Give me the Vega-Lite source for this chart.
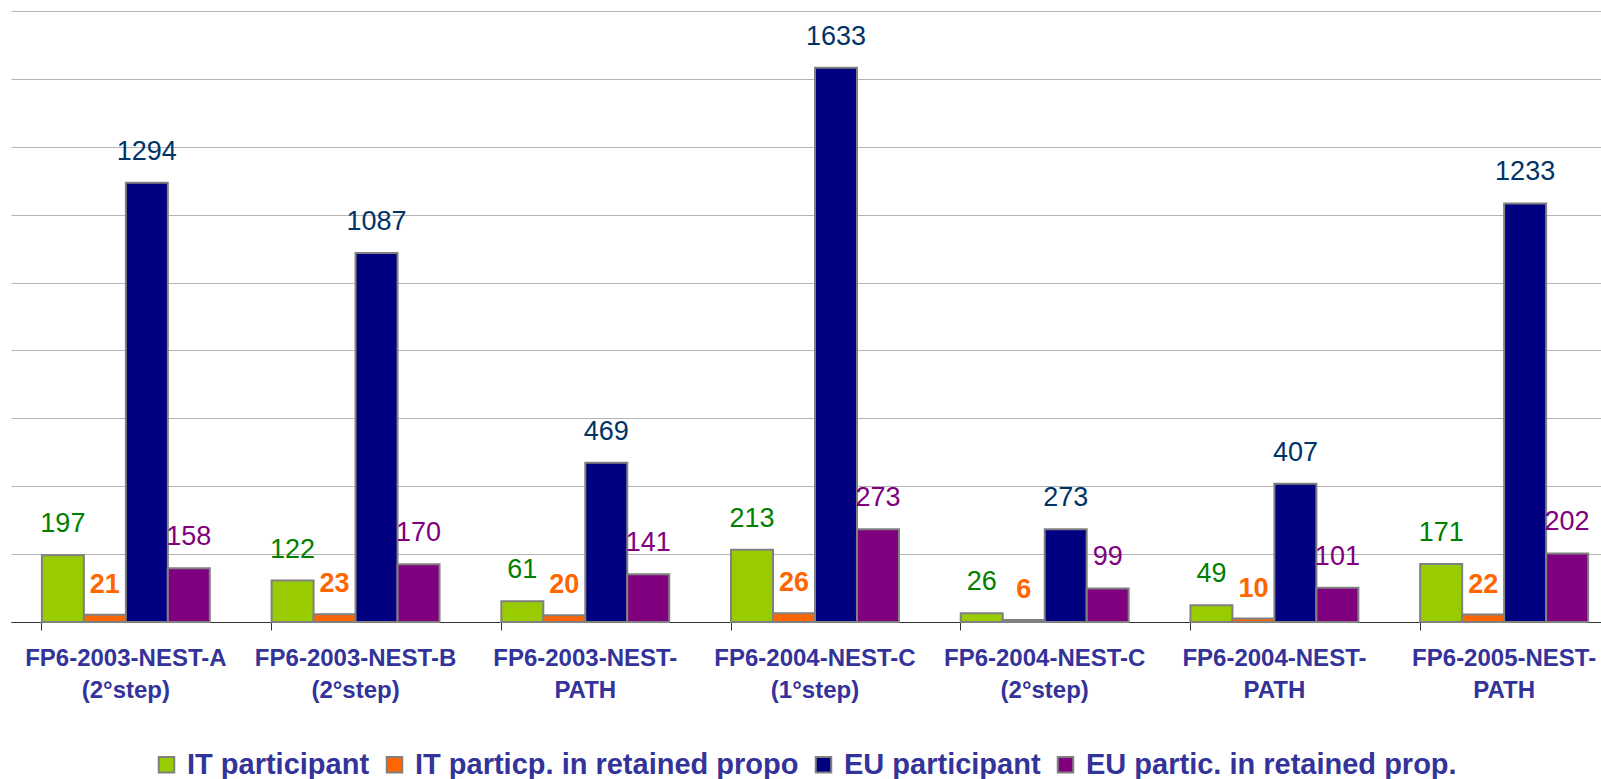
{
  "$schema": "https://vega.github.io/schema/vega-lite/v6.json",
  "autosize": {"type": "none"},
  "width": 1590,
  "height": 611,
  "padding": {"left": 11, "top": 11, "right": 0, "bottom": 157},
  "background": "white",
  "config": {"view": {"stroke": null}},
  "data": {"values": [
    {"cat": "FP6-2003-NEST-A|(2°step)", "series": "IT participant", "value": 197},
    {"cat": "FP6-2003-NEST-A|(2°step)", "series": "IT particp. in retained propo", "value": 21},
    {"cat": "FP6-2003-NEST-A|(2°step)", "series": "EU participant", "value": 1294},
    {"cat": "FP6-2003-NEST-A|(2°step)", "series": "EU partic. in retained prop.", "value": 158},
    {"cat": "FP6-2003-NEST-B|(2°step)", "series": "IT participant", "value": 122},
    {"cat": "FP6-2003-NEST-B|(2°step)", "series": "IT particp. in retained propo", "value": 23},
    {"cat": "FP6-2003-NEST-B|(2°step)", "series": "EU participant", "value": 1087},
    {"cat": "FP6-2003-NEST-B|(2°step)", "series": "EU partic. in retained prop.", "value": 170},
    {"cat": "FP6-2003-NEST-|PATH", "series": "IT participant", "value": 61},
    {"cat": "FP6-2003-NEST-|PATH", "series": "IT particp. in retained propo", "value": 20},
    {"cat": "FP6-2003-NEST-|PATH", "series": "EU participant", "value": 469},
    {"cat": "FP6-2003-NEST-|PATH", "series": "EU partic. in retained prop.", "value": 141},
    {"cat": "FP6-2004-NEST-C|(1°step)", "series": "IT participant", "value": 213},
    {"cat": "FP6-2004-NEST-C|(1°step)", "series": "IT particp. in retained propo", "value": 26},
    {"cat": "FP6-2004-NEST-C|(1°step)", "series": "EU participant", "value": 1633},
    {"cat": "FP6-2004-NEST-C|(1°step)", "series": "EU partic. in retained prop.", "value": 273},
    {"cat": "FP6-2004-NEST-C|(2°step)", "series": "IT participant", "value": 26},
    {"cat": "FP6-2004-NEST-C|(2°step)", "series": "IT particp. in retained propo", "value": 6},
    {"cat": "FP6-2004-NEST-C|(2°step)", "series": "EU participant", "value": 273},
    {"cat": "FP6-2004-NEST-C|(2°step)", "series": "EU partic. in retained prop.", "value": 99},
    {"cat": "FP6-2004-NEST-|PATH", "series": "IT participant", "value": 49},
    {"cat": "FP6-2004-NEST-|PATH", "series": "IT particp. in retained propo", "value": 10},
    {"cat": "FP6-2004-NEST-|PATH", "series": "EU participant", "value": 407},
    {"cat": "FP6-2004-NEST-|PATH", "series": "EU partic. in retained prop.", "value": 101},
    {"cat": "FP6-2005-NEST-|PATH", "series": "IT participant", "value": 171},
    {"cat": "FP6-2005-NEST-|PATH", "series": "IT particp. in retained propo", "value": 22},
    {"cat": "FP6-2005-NEST-|PATH", "series": "EU participant", "value": 1233},
    {"cat": "FP6-2005-NEST-|PATH", "series": "EU partic. in retained prop.", "value": 202}
  ]},
  "encoding": {
    "x": {
      "field": "cat", "type": "nominal", "sort": null,
      "scale": {"rangeMax": 1608, "paddingInner": 0.269, "paddingOuter": 0.1345},
      "axis": null
    },
    "xOffset": {
      "field": "series", "type": "nominal",
      "sort": ["IT participant", "IT particp. in retained propo", "EU participant", "EU partic. in retained prop."],
      "scale": {"paddingInner": 0, "paddingOuter": 0}
    },
    "y": {
      "field": "value", "type": "quantitative",
      "scale": {"domain": [0, 1800], "nice": false},
      "axis": {"values": [0, 200, 400, 600, 800, 1000, 1200, 1400, 1600, 1800], "labels": false, "ticks": false, "domain": false, "grid": true, "gridColor": "#b4b4b4", "gridWidth": 1, "title": null}
    }
  },
  "layer": [
    {
      "mark": {"type": "bar", "stroke": "#808080", "strokeWidth": 2},
      "encoding": {
        "x": {
          "field": "cat", "type": "nominal", "sort": null,
          "axis": {"title": null, "orient": "bottom", "bandPosition": 0, "labels": false, "ticks": true, "tickSize": 8, "tickColor": "#333333", "domain": true, "domainColor": "#333333", "domainWidth": 1, "grid": false}
        },
        "color": {
          "field": "series", "type": "nominal",
          "sort": ["IT participant", "IT particp. in retained propo", "EU participant", "EU partic. in retained prop."],
          "scale": {"domain": ["IT participant", "IT particp. in retained propo", "EU participant", "EU partic. in retained prop."], "range": ["#99cc00", "#ff6600", "#000080", "#800080"]},
          "legend": {
            "title": null, "orient": "none", "legendX": 141, "legendY": 739, "direction": "horizontal",
            "symbolType": "square", "symbolSize": 240, "symbolStrokeColor": "#808080", "symbolStrokeWidth": 2,
            "labelFont": "Liberation Sans", "labelFontWeight": "bold", "labelFontSize": 29, "labelColor": "#333399",
            "labelOffset": 6, "columnPadding": 10, "labelLimit": 700
          }
        }
      }
    },
    {
      "transform": [{"filter": "datum.series !== 'IT particp. in retained propo'"}],
      "mark": {"type": "text", "baseline": "alphabetic", "dy": -23, "font": "Liberation Sans", "fontSize": 27},
      "encoding": {
        "text": {"field": "value", "type": "quantitative"},
        "color": {
          "field": "series", "type": "nominal",
          "scale": {"domain": ["IT participant", "IT particp. in retained propo", "EU participant", "EU partic. in retained prop."], "range": ["#008000", "#ff6600", "#003366", "#800080"]},
          "legend": null
        }
      }
    },
    {
      "transform": [{"filter": "datum.series === 'IT particp. in retained propo'"}],
      "mark": {"type": "text", "baseline": "alphabetic", "dy": -22, "font": "Liberation Sans", "fontSize": 27, "fontWeight": "bold", "color": "#ff6600"},
      "encoding": {
        "text": {"field": "value", "type": "quantitative"}
      }
    },
    {
      "mark": {"type": "rule", "opacity": 0},
      "encoding": {
        "x": {
          "field": "cat", "type": "nominal", "sort": null,
          "axis": {"title": null, "orient": "bottom", "labels": true, "ticks": false, "tickSize": 0, "domain": false, "grid": false,
            "labelExpr": "split(datum.label, '|')", "labelFont": "Liberation Sans", "labelFontWeight": "bold", "labelFontSize": 24,
            "labelColor": "#333399", "labelPadding": 24, "labelLineHeight": 32, "labelBaseline": "top", "labelAngle": 0, "labelLimit": 300}
        },
        "y": {"value": 0}
      }
    }
  ],
  "resolve": {"scale": {"color": "independent"}, "axis": {"x": "independent"}}
}
